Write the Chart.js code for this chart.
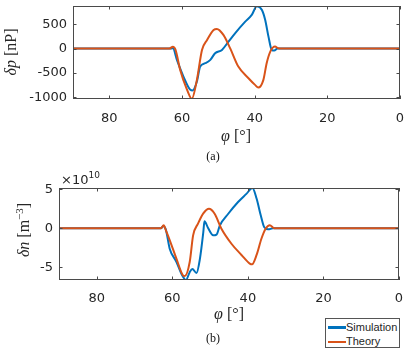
<!DOCTYPE html>
<html>
<head>
<meta charset="utf-8">
<script src="https://cdn.jsdelivr.net/npm/chart.js@4"></script>
<style>
  body { margin: 0; background: #fff; width: 415px; height: 359px; position: relative; overflow: hidden; }
  canvas { position: absolute; left: 0; }
  #topChart { top: 0; }
  #bottomChart { top: 165px; }
  .cap { position: absolute; font: 12px "Liberation Serif", serif; color: #111; transform: translateX(-50%); line-height: 1; }
  #legend { position: absolute; left: 325px; top: 318px; width: 73px; height: 28px; border: 1px solid #555; background: #fff;
            font: 11px "Liberation Sans", Arial, sans-serif; color: #262626; }
  #legend .row { position: absolute; left: 0; height: 13px; line-height: 13px; }
  #legend .sw { position: absolute; left: 2px; width: 18px; }
  #legend .lb { position: absolute; left: 20px; white-space: nowrap; }
</style>
</head>
<body>
<canvas id="topChart" width="415" height="165"></canvas>
<canvas id="bottomChart" width="415" height="194"></canvas>
<div class="cap" style="left:213px; top:150px;">(a)</div>
<div class="cap" style="left:213px; top:332px;">(b)</div>
<div id="legend"></div>

<script>
// ===== adatok =====
const seriesNames = ['Simulation', 'Theory'];
const seriesColors = ['#0072BD', '#D95319'];

const xTicks = [0, 20, 40, 60, 80];
const topYTicks = [-1000, -500, 0, 500];
const bottomYTicks = [-5, 0, 5];

// (a) delta p [nP]
const phiSimP = [90, 63.5, 62.5, 61.4, 59.6, 57.7, 57.1, 55.9, 55.0, 53.6, 52.2, 50.9, 49.0, 47.2, 45.4, 42.6, 40.8, 39.4, 38.0, 37.1, 36.2, 35.3, 34.6, 33.7, 0];
const dpSim   = [0, 0, 5, -232, -574, -847, -860, -676, -369, -300, -232, -95, -27, 143, 315, 554, 691, 870, 793, 588, 246, -27, -41, 0, 0];
const phiTheoP = [90, 63.5, 62.5, 61.8, 60.5, 58.6, 57.3, 55.9, 54.5, 53.1, 51.3, 50.4, 48.6, 46.7, 44.5, 41.7, 39.9, 39.0, 37.6, 36.7, 35.7, 34.4, 33.5, 32.8, 0];
const dpTheo   = [0, 0, 40, -20, -437, -847, -1030, -642, -27, 178, 383, 404, 281, 0, -369, -608, -745, -800, -642, -300, -61, 41, 8, 0, 0];

// (b) delta n [x1e10 m^-3]
const phiSimN = [90, 63.0, 62.4, 61.7, 60.7, 58.9, 57.6, 56.4, 55.4, 54.7, 53.6, 52.7, 51.8, 51.5, 50.5, 49.2, 48.3, 47.4, 45.2, 42.6, 40.4, 38.8, 37.7, 36.6, 35.7, 34.6, 33.4, 0];
const dnSim   = [0, 0, 0.3, -0.2, -2.6, -4.3, -5.8, -6.6, -5.6, -5.2, -5.7, -3.9, -0.5, 0.9, 0.0, -0.9, -0.8, 0.4, 1.86, 3.36, 4.4, 5.15, 3.8, 1.66, 0.17, -0.13, 0, 0];
const phiTheoN = [90, 63.0, 62.3, 61.6, 60.7, 58.9, 57.2, 56.7, 55.4, 54.5, 53.2, 51.8, 50.3, 48.8, 47.0, 44.3, 41.7, 39.5, 38.9, 37.7, 36.4, 35.3, 34.2, 33.0, 0];
const dnTheo   = [0, 0, 0.38, -0.4, -1.5, -3.9, -6.0, -6.1, -4.3, -0.9, 0.6, 1.9, 2.5, 1.86, -0.05, -2.0, -3.4, -4.5, -4.6, -3.4, -1.3, -0.05, 0.38, 0, 0];

// ===== segédfüggvények =====
const toPoints = (xs, ys) => xs.map((x, i) => ({ x, y: ys[i] }));

function drawRich(ctx, parts, cx, cy, rotate) {
  const size = 16;
  const fontOf = p => `${p.italic ? 'italic ' : ''}${p.sup ? Math.round(size * 0.7) : size}px "Liberation Serif", serif`;
  ctx.save();
  ctx.translate(cx, cy);
  if (rotate) ctx.rotate(-Math.PI / 2);
  let w = 0;
  parts.forEach(p => { ctx.font = fontOf(p); w += ctx.measureText(p.text).width; });
  let x = -w / 2;
  ctx.textBaseline = 'middle';
  ctx.fillStyle = '#262626';
  parts.forEach(p => {
    ctx.font = fontOf(p);
    ctx.fillText(p.text, x, p.sup ? -5 : 0);
    x += ctx.measureText(p.text).width;
  });
  ctx.restore();
}

// MATLAB-szerű doboz, befelé álló tickek, tengelyfeliratok
const matlabBox = {
  id: 'matlabBox',
  afterDraw(chart, args, opts) {
    const { ctx, chartArea: a, scales: { x, y } } = chart;
    ctx.save();
    ctx.strokeStyle = '#4a4a4a';
    ctx.lineWidth = 1;
    ctx.strokeRect(a.left + 0.5, a.top + 0.5, a.right - a.left - 1, a.bottom - a.top - 1);
    ctx.beginPath();
    x.ticks.forEach(t => {
      const px = Math.round(x.getPixelForValue(t.value)) + 0.5;
      ctx.moveTo(px, a.bottom); ctx.lineTo(px, a.bottom - 3.5);
      ctx.moveTo(px, a.top); ctx.lineTo(px, a.top + 3.5);
    });
    y.ticks.forEach(t => {
      const py = Math.round(y.getPixelForValue(t.value)) + 0.5;
      ctx.moveTo(a.left, py); ctx.lineTo(a.left + 3.5, py);
      ctx.moveTo(a.right, py); ctx.lineTo(a.right - 3.5, py);
    });
    ctx.stroke();
    ctx.restore();

    drawRich(ctx, opts.xTitle, opts.xTitlePos[0], opts.xTitlePos[1], false);
    drawRich(ctx, opts.yTitle, opts.yTitlePos[0], opts.yTitlePos[1], true);

    if (opts.exponent) {
      ctx.save();
      ctx.fillStyle = '#262626';
      ctx.textBaseline = 'alphabetic';
      ctx.font = '13px "DejaVu Sans", sans-serif';
      const [ex, ey] = opts.exponent;
      ctx.fillText('\u00d710', ex, ey);
      const w = ctx.measureText('\u00d710').width;
      ctx.font = '9px "DejaVu Sans", sans-serif';
      ctx.fillText('10', ex + w, ey - 6);
      ctx.restore();
    }
  }
};

function makeChart(canvasId, cfg) {
  const ctx = document.getElementById(canvasId).getContext('2d');
  return new Chart(ctx, {
    type: 'line',
    data: {
      datasets: [
        {
          label: seriesNames[0],
          data: toPoints(cfg.simX, cfg.simY),
          borderColor: seriesColors[0],
          borderWidth: 2,
          pointRadius: 0,
          cubicInterpolationMode: 'monotone',
          order: 2
        },
        {
          label: seriesNames[1],
          data: toPoints(cfg.theoX, cfg.theoY),
          borderColor: seriesColors[1],
          borderWidth: 2,
          pointRadius: 0,
          cubicInterpolationMode: 'monotone',
          order: 1
        }
      ]
    },
    options: {
      responsive: false,
      animation: false,
      layout: { padding: cfg.padding },
      plugins: {
        legend: { display: false },
        tooltip: { enabled: false },
        matlabBox: cfg.titles
      },
      scales: {
        x: {
          type: 'linear',
          reverse: true,
          min: 0,
          max: 90,
          afterBuildTicks: s => { s.ticks = xTicks.map(v => ({ value: v })); },
          afterFit: s => { s.height = cfg.xAxisHeight; s.paddingLeft = 0; s.paddingRight = 0; },
          grid: { display: false, drawTicks: false },
          border: { display: false },
          ticks: {
            padding: cfg.xTickPad,
            color: '#262626',
            font: { family: '"DejaVu Sans", sans-serif', size: 13 },
            callback: v => String(v)
          }
        },
        y: {
          type: 'linear',
          min: cfg.yMin,
          max: cfg.yMax,
          afterBuildTicks: s => { s.ticks = cfg.yTicks.map(v => ({ value: v })); },
          afterFit: s => { s.width = cfg.yAxisWidth; s.paddingTop = 0; s.paddingBottom = 0; },
          grid: { display: false, drawTicks: false },
          border: { display: false },
          ticks: {
            padding: 6,
            color: '#262626',
            font: { family: '"DejaVu Sans", sans-serif', size: 13 },
            callback: v => String(v)
          }
        }
      }
    },
    plugins: [matlabBox]
  });
}

// ===== (a) =====
makeChart('topChart', {
  simX: phiSimP, simY: dpSim, theoX: phiTheoP, theoY: dpTheo,
  yMin: -1035, yMax: 875, yTicks: topYTicks,
  padding: { top: 6, right: 15, bottom: 0, left: 0 },
  yAxisWidth: 73, xAxisHeight: 66, xTickPad: 12,
  titles: {
    xTitle: [{ text: '\u03c6', italic: true }, { text: ' [\u00b0]' }],
    xTitlePos: [236, 137],
    yTitle: [{ text: '\u03b4p', italic: true }, { text: ' [nP]' }],
    yTitlePos: [12, 52]
  }
});

// ===== (b) =====
makeChart('bottomChart', {
  simX: phiSimN, simY: dnSim, theoX: phiTheoN, theoY: dnTheo,
  yMin: -6.6, yMax: 5.15, yTicks: bottomYTicks,
  padding: { top: 23, right: 16, bottom: 0, left: 0 },
  yAxisWidth: 59, xAxisHeight: 79, xTickPad: 11,
  titles: {
    xTitle: [{ text: '\u03c6', italic: true }, { text: ' [\u00b0]' }],
    xTitlePos: [229, 150],
    yTitle: [{ text: '\u03b4n', italic: true }, { text: ' [m' }, { text: '\u22123', sup: true }, { text: ']' }],
    yTitlePos: [25, 65],
    exponent: [61, 19]
  }
});

// ===== jelmagyarázat =====
const legend = document.getElementById('legend');
seriesNames.forEach((name, i) => {
  const row = document.createElement('div');
  row.className = 'row';
  row.style.top = (2 + i * 13.5) + 'px';
  const sw = document.createElement('div');
  sw.className = 'sw';
  sw.style.top = (i === 0 ? 5 : 6) + 'px';
  sw.style.borderTop = `${i === 0 ? 3 : 2}px solid ${seriesColors[i]}`;
  const lb = document.createElement('div');
  lb.className = 'lb';
  lb.textContent = name;
  row.appendChild(sw);
  row.appendChild(lb);
  legend.appendChild(row);
});
</script>
</body>
</html>
